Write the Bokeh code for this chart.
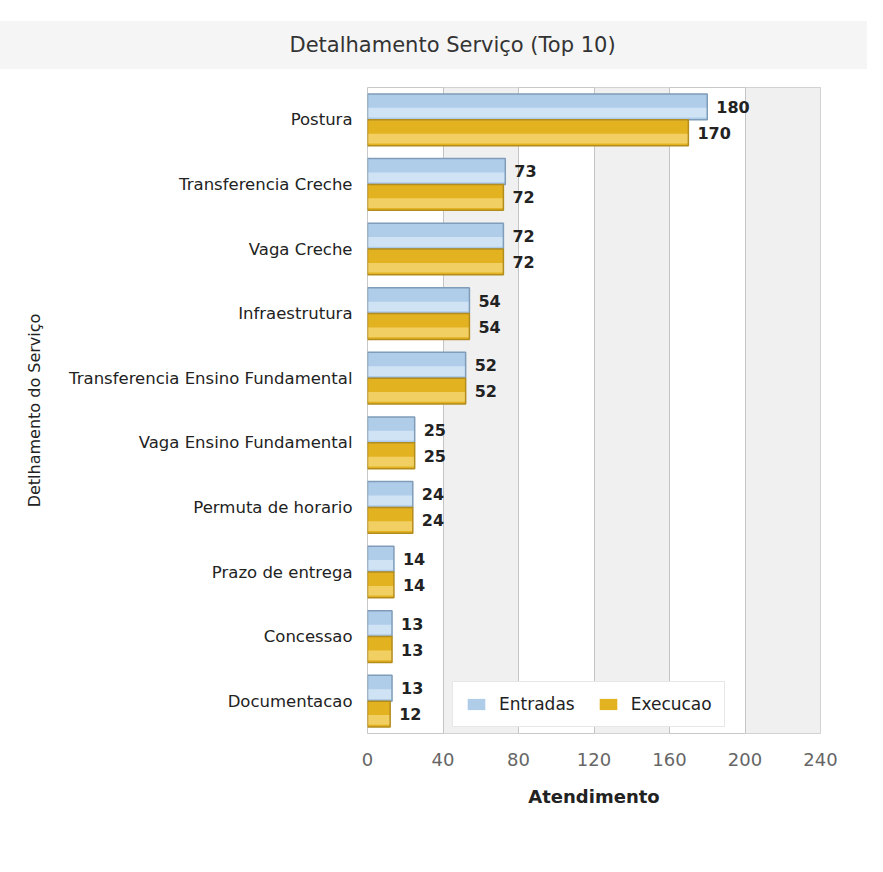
from bokeh.plotting import figure
from bokeh.models import (FactorRange, Range1d, FixedTicker, Legend, LegendItem,
                          ColumnDataSource)
from bokeh.transform import dodge
from bokeh.embed import file_html
from bokeh.resources import INLINE
from bokeh.core.properties import value

# ---- data ----
categories = ["Postura", "Transferencia Creche", "Vaga Creche", "Infraestrutura",
              "Transferencia Ensino Fundamental", "Vaga Ensino Fundamental",
              "Permuta de horario", "Prazo de entrega", "Concessao", "Documentacao"]
entradas = [180, 73, 72, 54, 52, 25, 24, 14, 13, 13]
execucao = [170, 72, 72, 54, 52, 25, 24, 14, 13, 12]
x_ticks = [0, 40, 80, 120, 160, 200, 240]
series_names = ["Entradas", "Execucao"]
title_text = "Detalhamento Serviço (Top 10)"
x_title = "Atendimento"
y_title = "Detlhamento do Serviço"

src = ColumnDataSource(dict(
    cat=categories, ent=entradas, exe=execucao,
    ent_lbl=[str(v) for v in entradas], exe_lbl=[str(v) for v in execucao]))

W, H = 867, 856
FONT = "DejaVu Sans"

p = figure(width=W, height=H, y_range=FactorRange(factors=categories[::-1]),
           x_range=Range1d(0, 240), toolbar_location=None, output_backend="svg",
           min_border_left=367, min_border_right=47, min_border_top=82,
           min_border_bottom=123, title=title_text)
p.background_fill_color = "white"
p.border_fill_color = "white"
p.outline_line_color = "#c8c8c8"
p.outline_line_width = 1

p.title.text_font = FONT
p.title.text_font_size = "21px"
p.title.text_font_style = "normal"
p.title.text_color = "#333333"
p.title.align = "left"
p.title.offset = -378
p.title.background_fill_color = "#f5f5f5"
p.title.padding = (300, 12)
p.title.standoff = 37

p.xgrid.ticker = FixedTicker(ticks=x_ticks)
p.xgrid.grid_line_color = "#c4c4c4"
p.xgrid.band_fill_color = "#f0f0f0"
p.xgrid.band_fill_alpha = 1.0
p.ygrid.grid_line_color = None

BH = 0.4
# Entradas (blue)
r_ent = p.hbar(y=dodge("cat", 0.2, range=p.y_range), left=0, right="ent", height=BH,
               source=src, fill_color="#afcde9", line_color=None)
p.hbar(y=dodge("cat", 0.11, range=p.y_range), left=0, right="ent", height=0.15,
       source=src, fill_color="#cfe3f5", line_color=None)
p.hbar(y=dodge("cat", 0.2, range=p.y_range), left=0, right="ent", height=BH,
       source=src, fill_color=None, line_color="#7f9cb8", line_width=1.5)
# Execucao (gold)
r_exe = p.hbar(y=dodge("cat", -0.2, range=p.y_range), left=0, right="exe", height=BH,
               source=src, fill_color="#e3b220", line_color=None)
p.hbar(y=dodge("cat", -0.29, range=p.y_range), left=0, right="exe", height=0.15,
       source=src, fill_color="#f1cf62", line_color=None)
p.hbar(y=dodge("cat", -0.2, range=p.y_range), left=0, right="exe", height=BH,
       source=src, fill_color=None, line_color="#b38c1e", line_width=1.5)

# value labels
p.text(x="ent", y=dodge("cat", 0.2, range=p.y_range), text="ent_lbl", source=src,
       x_offset=9, text_baseline="middle", text_font=value(FONT),
       text_font_style="bold", text_font_size="16px", text_color="#222222")
p.text(x="exe", y=dodge("cat", -0.2, range=p.y_range), text="exe_lbl", source=src,
       x_offset=9, text_baseline="middle", text_font=value(FONT),
       text_font_style="bold", text_font_size="16px", text_color="#222222")

# axes
p.xaxis.ticker = FixedTicker(ticks=x_ticks)
p.xaxis.axis_line_color = None
p.xaxis.major_tick_line_color = None
p.xaxis.minor_tick_line_color = None
p.xaxis.major_label_standoff = 13
p.xaxis.major_label_text_font = FONT
p.xaxis.major_label_text_font_size = "18px"
p.xaxis.major_label_text_color = "#666666"
p.xaxis.axis_label = x_title
p.xaxis.axis_label_text_font = FONT
p.xaxis.axis_label_text_font_style = "bold"
p.xaxis.axis_label_text_font_size = "18px"
p.xaxis.axis_label_text_color = "#222222"
p.xaxis.axis_label_standoff = 17

p.yaxis.axis_line_color = None
p.yaxis.major_tick_line_color = None
p.yaxis.minor_tick_line_color = None
p.yaxis.major_label_standoff = 9
p.yaxis.major_label_text_font = FONT
p.yaxis.major_label_text_font_size = "16.5px"
p.yaxis.major_label_text_color = "#222222"
p.yaxis.axis_label = y_title
p.yaxis.axis_label_text_font = FONT
p.yaxis.axis_label_text_font_style = "normal"
p.yaxis.axis_label_text_font_size = "16px"
p.yaxis.axis_label_text_color = "#222222"
p.yaxis.axis_label_standoff = 22

legend = Legend(items=[LegendItem(label=series_names[0], renderers=[r_ent]),
                       LegendItem(label=series_names[1], renderers=[r_exe])],
                orientation="horizontal", location=(85, 6))
legend.label_text_font = FONT
legend.label_text_font_size = "17px"
legend.label_text_color = "#222222"
legend.border_line_color = "#cfcfcf"
legend.border_line_width = 1.5
legend.background_fill_color = "white"
legend.background_fill_alpha = 1.0
legend.glyph_width = 22
legend.glyph_height = 14
legend.label_standoff = 12
legend.spacing = 22
legend.padding = 12
legend.margin = 0
p.add_layout(legend, "center")

open("out.html", "w").write(file_html(p, INLINE))
